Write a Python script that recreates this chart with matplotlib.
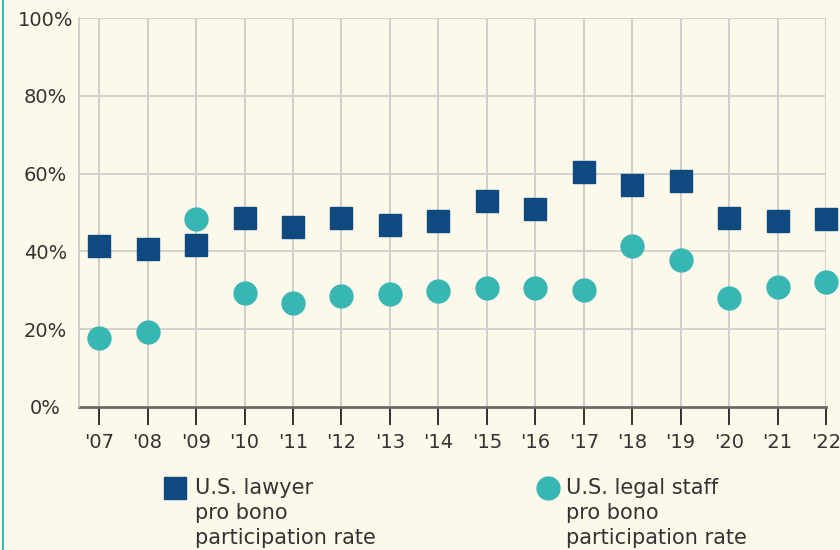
import matplotlib.pyplot as plt
import numpy as np
from matplotlib.lines import Line2D
from matplotlib.patches import Rectangle

# pro bono participation rates (%)
years = [2007, 2008, 2009, 2010, 2011, 2012, 2013, 2014, 2015, 2016, 2017, 2018, 2019, 2020, 2021, 2022]
year_labels = ["'07", "'08", "'09", "'10", "'11", "'12", "'13", "'14", "'15", "'16", "'17", "'18", "'19", "'20", "'21", "'22"]
lawyer = [41.5, 40.7, 41.7, 48.5, 46.3, 48.6, 46.9, 47.9, 52.9, 50.8, 60.4, 57.2, 58.2, 48.6, 47.9, 48.3]
staff = [17.8, 19.3, 48.4, 29.4, 26.7, 28.6, 28.9, 29.7, 30.5, 30.5, 30.0, 41.4, 37.8, 27.9, 30.7, 32.0]
y_ticks = [0, 20, 40, 60, 80, 100]

bg = '#fcf8ea'
navy = '#0e4a80'
teal = '#38b6b3'
txt = '#333333'

fig = plt.figure(figsize=(8.4, 5.5), dpi=100, facecolor=bg)
ax = fig.add_axes([0.0944, 0.2605, 0.8889, 0.7062])
ax.set_facecolor(bg)

ax.set_xlim(2007 - 0.41, 2022)
ax.set_ylim(0, 100)

for yr in years:
    ax.axvline(yr, color='#c4c4c4', lw=1.1, zorder=1)
for v in y_ticks[1:]:
    ax.axhline(v, color='#d0d0d0', lw=1.4, zorder=1)

ax.plot(years, lawyer, 's', ms=16.5, color=navy, mec=navy, clip_on=False, zorder=3)
ax.plot(years, staff, 'o', ms=16.5, color=teal, mec=teal, clip_on=False, zorder=3)

for s in ['top', 'right']:
    ax.spines[s].set_visible(False)
ax.spines['left'].set_color('#c4c4c4')
ax.spines['left'].set_linewidth(1.1)
ax.spines['bottom'].set_color('#6a6a6a')
ax.spines['bottom'].set_linewidth(2)
ax.spines['bottom'].set_zorder(2)

ax.set_xticks(years)
ax.set_xticklabels(year_labels)
ax.tick_params(axis='x', length=13, width=1.3, color='#222222', pad=6,
               labelsize=14, labelcolor=txt)
ax.set_yticks(y_ticks)
ax.set_yticklabels([f'{v}%' for v in y_ticks])
ax.tick_params(axis='y', length=0, pad=24.5, labelsize=14, labelcolor=txt)
for lb in ax.get_yticklabels():
    lb.set_horizontalalignment('center')

# teal border on the left
fig.add_artist(Rectangle((0.0018, 0), 0.003, 1, transform=fig.transFigure,
                         color=teal, lw=0))

# legend
W, H = 840, 550
fig.add_artist(Line2D([174.5 / W], [1 - 488 / H], transform=fig.transFigure,
                      marker='s', ms=16.5, color=navy, ls='none'))
fig.text(195 / W, 1 - 478 / H, 'U.S. lawyer\npro bono\nparticipation rate',
         fontsize=15, color=txt, va='top', ha='left', linespacing=1.3)
fig.add_artist(Line2D([548.3 / W], [1 - 488.3 / H], transform=fig.transFigure,
                      marker='o', ms=16.5, color=teal, ls='none'))
fig.text(566 / W, 1 - 478 / H, 'U.S. legal staff\npro bono\nparticipation rate',
         fontsize=15, color=txt, va='top', ha='left', linespacing=1.3)

fig.savefig('out.png', dpi=100, facecolor=bg)
